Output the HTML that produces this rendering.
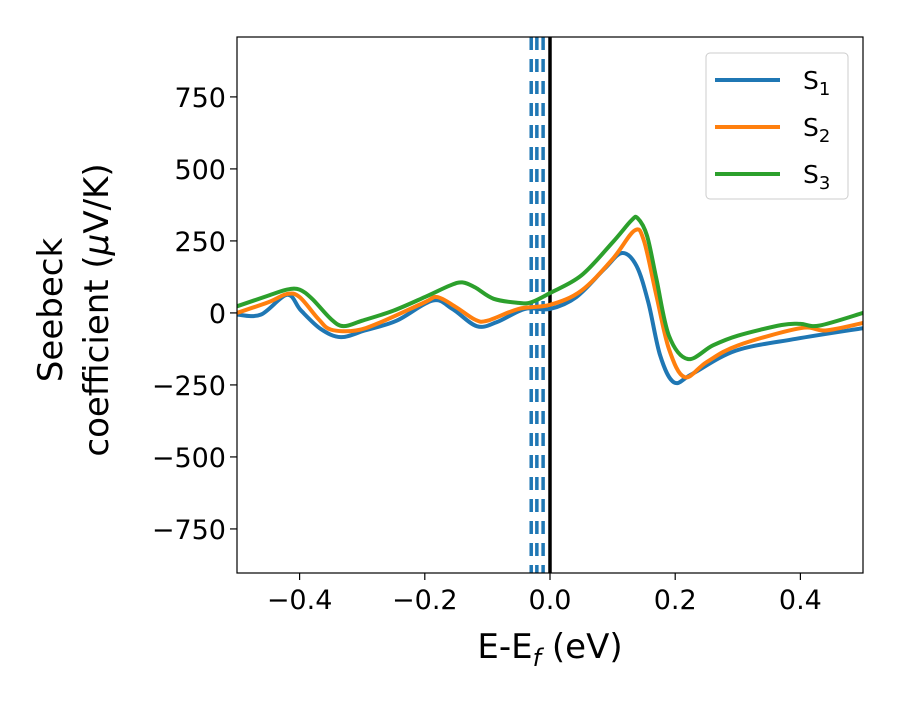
<!DOCTYPE html>
<html><head><meta charset="utf-8"><style>
body{margin:0;background:#fff}
svg text{font-family:"DejaVu Sans","Liberation Sans",sans-serif;fill:#000}
</style></head><body>
<svg width="900" height="700" xmlns="http://www.w3.org/2000/svg">
<defs><clipPath id="clip"><rect x="237" y="37" width="626" height="536"/></clipPath></defs>
<g id="series" clip-path="url(#clip)"></g>
<rect x="237" y="37" width="626" height="536" fill="none" stroke="#000" stroke-width="1.2"/>
<g id="axes"></g>
<text x="550" y="658" font-size="34" text-anchor="middle">E-E<tspan font-style="italic" font-size="24" dy="8">f</tspan><tspan dy="-8"> (eV)</tspan></text>
<g transform="translate(62,310) rotate(-90)">
<text x="0" y="0" font-size="34" text-anchor="middle">Seebeck</text>
<text x="0" y="46" font-size="34" text-anchor="middle">coefficient  (<tspan font-style="italic">μ</tspan>V/K)</text>
</g>
<g>
<rect x="706" y="53" width="142" height="146" rx="4" fill="#fff" fill-opacity="0.8" stroke="#ccc" stroke-width="1"/>
<g><line x1="715" y1="80" x2="780" y2="80" stroke="#1f77b4" stroke-width="4"/><text x="803" y="89" font-size="25">S<tspan font-size="18" dy="6">1</tspan></text></g>
<g><line x1="715" y1="127" x2="780" y2="127" stroke="#ff7f0e" stroke-width="4"/><text x="803" y="136" font-size="25">S<tspan font-size="18" dy="6">2</tspan></text></g>
<g><line x1="715" y1="174" x2="780" y2="174" stroke="#2ca02c" stroke-width="4"/><text x="803" y="183" font-size="25">S<tspan font-size="18" dy="6">3</tspan></text></g>
</g>
</svg>
<script>
const s1x=[-0.5,-0.462,-0.42,-0.398,-0.366,-0.334,-0.296,-0.245,-0.1875,-0.156,-0.117,-0.085,-0.04,0,0.042,0.087,0.115,0.138,0.157,0.176,0.198,0.227,0.297,0.393,0.5];
const s1y=[-6,-6,63,9,-56,-84,-61,-27,43,14,-46,-32,14,14,55,153,208,164,37,-148,-241,-212,-131,-90,-53];
const s2x=[-0.5,-0.45,-0.42,-0.4,-0.37,-0.35,-0.31,-0.27,-0.2,-0.18,-0.15,-0.12,-0.1,-0.05,0,0.05,0.1,0.135,0.15,0.17,0.19,0.215,0.25,0.3,0.4,0.44,0.5];
const s2y=[0,37,66,55,-21,-58,-61,-32,37,55,20,-23,-27,14,28,77,187,286,251,60,-125,-223,-171,-113,-53,-61,-35];
const s3x=[-0.5,-0.45,-0.42,-0.4,-0.38,-0.35,-0.33,-0.3,-0.25,-0.2,-0.16,-0.14,-0.12,-0.09,-0.05,-0.03,0,0.05,0.1,0.13,0.14,0.155,0.17,0.19,0.22,0.26,0.3,0.37,0.4,0.43,0.5];
const s3y=[23,60,81,81,49,-21,-46,-27,8,55,95,106,89,49,35,37,69,130,245,321,329,268,118,-79,-160,-113,-79,-42,-38,-44,0];
const vlines=[-0.030,-0.021,-0.011];
const xticks=[-0.4,-0.2,0.0,0.2,0.4];
const xtickLabels=["−0.4","−0.2","0.0","0.2","0.4"];
const yticks=[-750,-500,-250,0,250,500,750];
const ytickLabels=["−750","−500","−250","0","250","500","750"];
const NS="http://www.w3.org/2000/svg";
const X=v=>237+(v+0.5)*626;
const Y=v=>37+(958-v)/(958+903)*536;
const ser=document.getElementById('series'),ax=document.getElementById('axes');
function mk(t,a,p){const e=document.createElementNS(NS,t);for(const k in a)e.setAttribute(k,a[k]);p.appendChild(e);return e;}
vlines.forEach((v,i)=>{const l=mk('line',{x1:X(v),x2:X(v),y1:37,y2:573,stroke:'#1f77b4','stroke-width':3.5,'stroke-dasharray':'13 9'},ser);

});
const z=mk('line',{x1:X(0),x2:X(0),y1:37,y2:573,stroke:'#000','stroke-width':3.5},ser);


function path(xs,ys){const p=xs.map((x,i)=>[X(x),Y(ys[i])]);let d='M'+p[0][0]+','+p[0][1];
for(let i=0;i<p.length-1;i++){const a=p[Math.max(i-1,0)],b=p[i],c=p[i+1],e=p[Math.min(i+2,p.length-1)];
d+=' C'+(b[0]+(c[0]-a[0])/6)+','+(b[1]+(c[1]-a[1])/6)+' '+(c[0]-(e[0]-b[0])/6)+','+(c[1]-(e[1]-b[1])/6)+' '+c[0]+','+c[1];}return d;}
[[s1x,s1y,'#1f77b4','s1'],[s2x,s2y,'#ff7f0e','s2'],[s3x,s3y,'#2ca02c','s3']].forEach(s=>{
const p=mk('path',{d:path(s[0],s[1]),fill:'none',stroke:s[2],'stroke-width':4,'stroke-linejoin':'round'},ser);

});
xticks.forEach((v,i)=>{mk('line',{x1:X(v),x2:X(v),y1:573,y2:580,stroke:'#000','stroke-width':1.2},ax);
const t=mk('text',{x:X(v),y:609,'font-size':27,'text-anchor':'middle'},ax);t.textContent=xtickLabels[i];

});
yticks.forEach((v,i)=>{mk('line',{x1:230,x2:237,y1:Y(v),y2:Y(v),stroke:'#000','stroke-width':1.2},ax);
const t=mk('text',{x:226,y:Y(v)+10,'font-size':27,'text-anchor':'end'},ax);t.textContent=ytickLabels[i];

});
</script>
</body></html>
